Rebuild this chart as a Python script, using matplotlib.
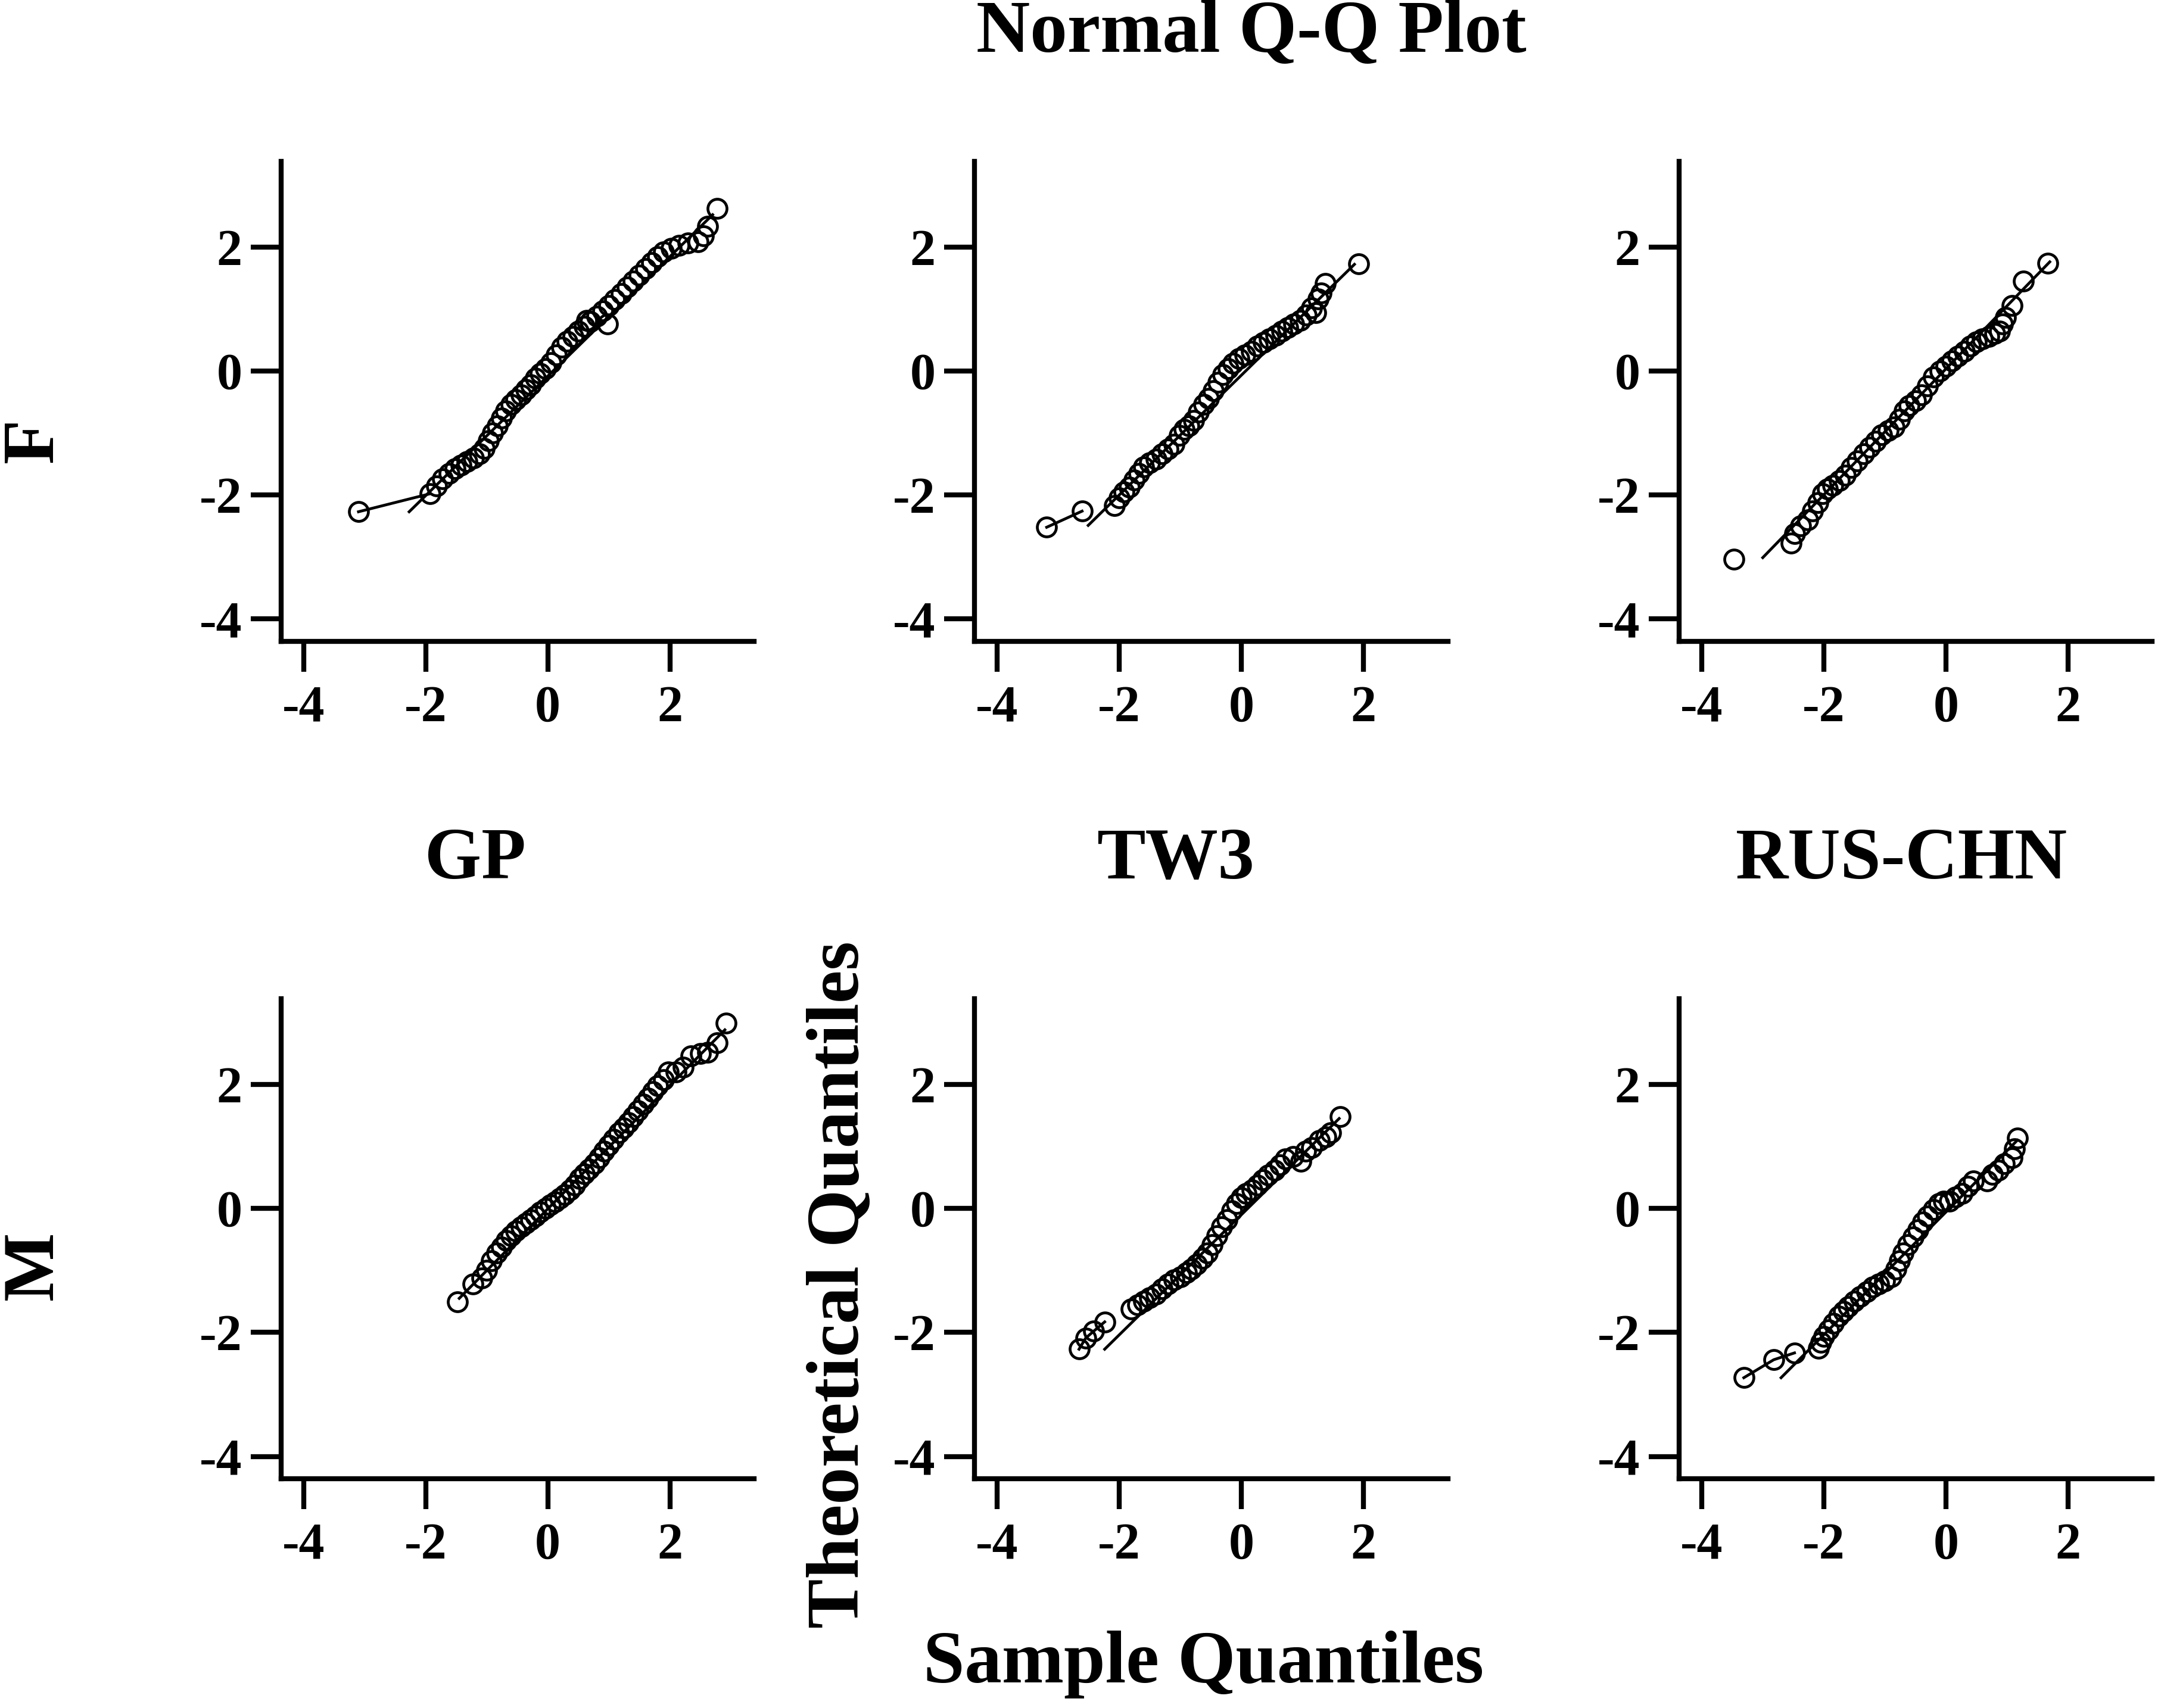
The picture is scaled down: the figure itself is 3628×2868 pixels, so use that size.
import matplotlib
matplotlib.use("Agg")
import matplotlib.pyplot as plt

plt.rcParams['font.family'] = ['Liberation Serif', 'DejaVu Serif']
plt.rcParams['font.weight'] = 'bold'
plt.rcParams['axes.unicode_minus'] = False

# ---- data: (sample quantile, theoretical quantile) ----
methods = ['GP', 'TW3', 'RUS-CHN']
sexes = ['F', 'M']
ticks = [-4, -2, 0, 2]

f_gp_x = [-3.10, -1.93, -1.82, -1.72, -1.62, -1.52, -1.42, -1.32, -1.22, -1.12, -1.04, -0.97,
          -0.90, -0.83, -0.76, -0.69, -0.60, -0.52, -0.44, -0.36, -0.28, -0.20, -0.12, -0.04,
          0.05, 0.14, 0.23, 0.32, 0.41, 0.50, 0.60, 0.64, 0.70, 0.80, 0.90, 0.98, 1.00, 1.10,
          1.20, 1.30, 1.40, 1.50, 1.60, 1.70, 1.80, 1.90, 2.02, 2.15, 2.30, 2.46, 2.55, 2.62, 2.77]
f_gp_y = [-2.27, -1.98, -1.85, -1.74, -1.65, -1.58, -1.52, -1.46, -1.40, -1.34, -1.25, -1.12,
          -1.00, -0.88, -0.76, -0.64, -0.54, -0.46, -0.38, -0.30, -0.22, -0.12, -0.04, 0.04,
          0.13, 0.26, 0.38, 0.48, 0.56, 0.64, 0.72, 0.82, 0.80, 0.88, 0.97, 0.76, 1.06, 1.15,
          1.25, 1.35, 1.45, 1.55, 1.65, 1.75, 1.84, 1.92, 1.98, 2.03, 2.06, 2.08, 2.18, 2.33, 2.62]

f_tw3_x = [-3.19, -2.61, -2.08, -2.00, -1.92, -1.84, -1.76, -1.68, -1.60, -1.50, -1.40, -1.30,
           -1.20, -1.10, -1.02, -0.94, -0.86, -0.78, -0.70, -0.62, -0.54, -0.46, -0.38, -0.30,
           -0.22, -0.14, -0.04, 0.06, 0.16, 0.26, 0.36, 0.46, 0.56, 0.66, 0.76, 0.86, 0.96,
           1.06, 1.15, 1.22, 1.26, 1.30, 1.37, 1.92]
f_tw3_y = [-2.52, -2.26, -2.17, -2.05, -1.95, -1.87, -1.76, -1.65, -1.55, -1.48, -1.42, -1.34,
           -1.26, -1.18, -1.04, -0.94, -0.88, -0.80, -0.66, -0.54, -0.44, -0.32, -0.18, -0.06,
           0.04, 0.12, 0.20, 0.26, 0.32, 0.40, 0.46, 0.52, 0.58, 0.64, 0.70, 0.76, 0.82,
           0.90, 1.02, 0.94, 1.16, 1.26, 1.41, 1.73]

f_rus_x = [-3.47, -2.54, -2.48, -2.38, -2.26, -2.18, -2.10, -2.02, -1.94, -1.85, -1.75, -1.65,
           -1.55, -1.45, -1.35, -1.25, -1.15, -1.05, -0.95, -0.85, -0.76, -0.68, -0.60, -0.50,
           -0.40, -0.30, -0.20, -0.10, 0.00, 0.10, 0.20, 0.30, 0.40, 0.50, 0.60, 0.70, 0.80,
           0.88, 0.93, 0.98, 1.08, 1.27, 1.67]
f_rus_y = [-3.04, -2.78, -2.62, -2.50, -2.40, -2.26, -2.12, -1.98, -1.90, -1.84, -1.77, -1.68,
           -1.56, -1.45, -1.34, -1.23, -1.13, -1.03, -0.96, -0.90, -0.78, -0.64, -0.56, -0.48,
           -0.38, -0.24, -0.10, 0.00, 0.08, 0.16, 0.24, 0.32, 0.40, 0.47, 0.52, 0.56, 0.60,
           0.64, 0.76, 0.86, 1.06, 1.45, 1.74]

m_gp_x = [-1.48, -1.23, -1.08, -1.00, -0.92, -0.84, -0.76, -0.68, -0.60, -0.52, -0.44, -0.36,
          -0.28, -0.20, -0.12, -0.04, 0.04, 0.12, 0.20, 0.28, 0.36, 0.44, 0.52, 0.60, 0.68,
          0.76, 0.84, 0.92, 1.00, 1.08, 1.16, 1.24, 1.32, 1.40, 1.48, 1.56, 1.64, 1.72, 1.80,
          1.90, 1.97, 2.10, 2.22, 2.34, 2.50, 2.62, 2.77, 2.92]
m_gp_y = [-1.51, -1.22, -1.12, -1.00, -0.84, -0.72, -0.62, -0.52, -0.44, -0.36, -0.30, -0.24,
          -0.18, -0.12, -0.06, 0.00, 0.06, 0.11, 0.16, 0.22, 0.30, 0.38, 0.48, 0.56, 0.64,
          0.72, 0.82, 0.92, 1.02, 1.12, 1.22, 1.30, 1.38, 1.48, 1.58, 1.68, 1.78, 1.88, 1.98,
          2.08, 2.20, 2.20, 2.28, 2.46, 2.50, 2.52, 2.67, 2.99]

m_tw3_x = [-2.66, -2.55, -2.42, -2.24, -1.81, -1.70, -1.60, -1.50, -1.40, -1.30, -1.20, -1.10,
           -1.00, -0.90, -0.82, -0.73, -0.64, -0.56, -0.48, -0.40, -0.32, -0.24, -0.16, -0.08,
           0.00, 0.08, 0.17, 0.26, 0.35, 0.44, 0.54, 0.63, 0.72, 0.85, 0.97, 1.05, 1.15, 1.28,
           1.38, 1.46, 1.62]
m_tw3_y = [-2.27, -2.09, -1.98, -1.83, -1.62, -1.55, -1.50, -1.44, -1.38, -1.30, -1.22, -1.15,
           -1.10, -1.04, -0.98, -0.90, -0.81, -0.72, -0.58, -0.44, -0.30, -0.18, -0.04, 0.08,
           0.17, 0.24, 0.30, 0.38, 0.46, 0.54, 0.62, 0.70, 0.80, 0.84, 0.76, 0.92, 0.98, 1.10,
           1.15, 1.22, 1.48]

m_rus_x = [-3.31, -2.82, -2.48, -2.09, -2.05, -2.00, -1.92, -1.84, -1.76, -1.68, -1.60, -1.50,
           -1.40, -1.30, -1.20, -1.10, -1.00, -0.90, -0.82, -0.76, -0.70, -0.62, -0.54, -0.46,
           -0.38, -0.30, -0.20, -0.12, -0.04, 0.06, 0.16, 0.26, 0.36, 0.45, 0.67, 0.76, 0.86,
           0.96, 1.08, 1.12, 1.17]
m_rus_y = [-2.73, -2.44, -2.33, -2.26, -2.16, -2.06, -1.96, -1.85, -1.74, -1.66, -1.58, -1.50,
           -1.42, -1.34, -1.27, -1.22, -1.17, -1.10, -0.98, -0.84, -0.72, -0.58, -0.46, -0.34,
           -0.22, -0.12, -0.02, 0.08, 0.12, 0.12, 0.18, 0.24, 0.36, 0.44, 0.44, 0.55, 0.62,
           0.72, 0.82, 0.96, 1.13]

# reference lines: [x0, x1], [y0, y1]
ref_x = [[-2.27, 2.70], [-2.51, 1.85], [-3.00, 1.70],
         [-1.45, 2.90], [-2.24, 1.60], [-2.70, 1.17]]
ref_y = [[-2.27, 2.52], [-2.49, 1.72], [-3.01, 1.76],
         [-1.45, 2.88], [-2.27, 1.45], [-2.73, 1.10]]
# how many of the lowest points are joined by a line
tail_n = [2, 2, 0, 0, 4, 3]

xs = [f_gp_x, f_tw3_x, f_rus_x, m_gp_x, m_tw3_x, m_rus_x]
ys = [f_gp_y, f_tw3_y, f_rus_y, m_gp_y, m_tw3_y, m_rus_y]

W, H = 3628, 2868
fig = plt.figure(figsize=(W / 100, H / 100), dpi=100)

lefts = [0.130, 0.451, 0.777]
bottoms = [0.6245, 0.1342]
aw, ah = 0.219, 0.281

for i in range(6):
    r, c = divmod(i, 3)
    ax = fig.add_axes([lefts[c], bottoms[r], aw, ah])
    ax.plot(ref_x[i], ref_y[i], color='black', lw=3.4, zorder=2)
    if tail_n[i] > 0:
        ax.plot(xs[i][:tail_n[i]], ys[i][:tail_n[i]], color='black', lw=3.4, zorder=2)
    ax.plot(xs[i], ys[i], linestyle='none', marker='o', markersize=23,
            markerfacecolor='none', markeredgecolor='black', markeredgewidth=3.4, zorder=3)
    ax.set_xlim(-4.37, 3.38)
    ax.set_ylim(-4.36, 3.38)
    ax.set_xticks(ticks)
    ax.set_yticks(ticks)
    ax.set_xticklabels([str(t) for t in ticks])
    ax.set_yticklabels([str(t) for t in ticks])
    for s in ['top', 'right']:
        ax.spines[s].set_visible(False)
    for s in ['left', 'bottom']:
        ax.spines[s].set_linewidth(6)
        ax.spines[s].set_capstyle('projecting')
    ax.tick_params(axis='both', direction='out', length=37, width=6,
                   labelsize=62, pad=10)
    ax.tick_params(axis='x', pad=16)
    for lab in ax.get_xticklabels() + ax.get_yticklabels():
        lab.set_fontweight('bold')

fig.text(0.579, 0.980, 'Normal Q-Q Plot', ha='center', va='center',
         fontsize=90, fontweight='bold')
for j, m in enumerate(methods):
    fig.text([0.220, 0.544, 0.880][j], 0.496, m, ha='center', va='center',
             fontsize=88, fontweight='bold')
fig.text(0.016, 0.742, sexes[0], ha='center', va='center', rotation=90,
         fontsize=88, fontweight='bold')
fig.text(0.016, 0.259, sexes[1], ha='center', va='center', rotation=90,
         fontsize=88, fontweight='bold')
fig.text(0.389, 0.248, 'Theoretical Quantiles', ha='center', va='center',
         rotation=90, fontsize=90, fontweight='bold')
fig.text(0.557, 0.0254, 'Sample Quantiles', ha='center', va='center',
         fontsize=90, fontweight='bold')

fig.savefig('out.png', dpi=100, facecolor='white')
